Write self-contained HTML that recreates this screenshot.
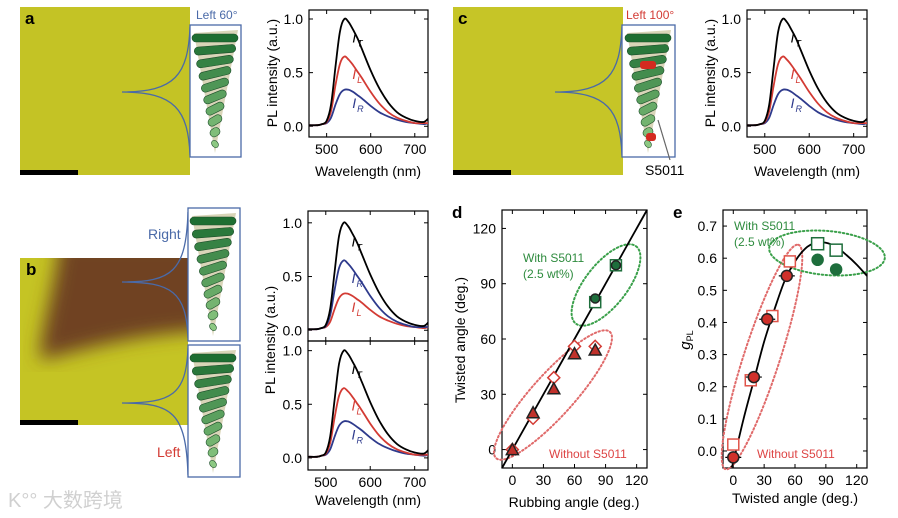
<!DOCTYPE html>
<html><head><meta charset="utf-8"><style>
html,body{margin:0;padding:0;background:#fff;}
svg{display:block;font-family:"Liberation Sans","Noto Sans CJK SC",sans-serif;}
</style></head><body>
<svg id="fig" width="898" height="518" viewBox="0 0 898 518" xmlns="http://www.w3.org/2000/svg">
<defs>
<filter id="blur6"><feGaussianBlur stdDeviation="9"/></filter>
<clipPath id="clipB"><rect x="20" y="258" width="168" height="167"/></clipPath>
</defs>
<rect x="20" y="7" width="170" height="168" fill="#c4c325"/>
<rect x="20" y="170" width="58" height="5" fill="#000"/>
<text x="25" y="24" font-size="17" font-weight="bold">a</text>
<path d="M122,92 C175,92 188,75 190,27 M122,92 C175,92 188,110 190,155" fill="none" stroke="#4a6aa8" stroke-width="1.3"/>
<rect x="190" y="25" width="51" height="132" fill="#fff" stroke="#4a6aa8" stroke-width="1.3"/>
<text x="196" y="19" font-size="12" fill="#4a6aa8">Left 60°</text>
<rect x="453" y="7" width="170" height="168" fill="#c6c527"/>
<rect x="453" y="170" width="58" height="5" fill="#000"/>
<text x="458" y="24" font-size="17" font-weight="bold">c</text>
<path d="M555,92 C608,92 620,75 622,27 M555,92 C608,92 620,110 622,155" fill="none" stroke="#4a6aa8" stroke-width="1.3"/>
<rect x="622" y="25" width="53" height="132" fill="#fff" stroke="#4a6aa8" stroke-width="1.3"/>
<text x="626" y="19" font-size="12" fill="#d33b34">Left 100°</text>
<line x1="670" y1="160" x2="658" y2="120" stroke="#666" stroke-width="1.2"/>
<text x="645" y="175" font-size="14">S5011</text>
<g clip-path="url(#clipB)">
<rect x="20" y="258" width="168" height="167" fill="#c5c424"/>
<path d="M60,240 C55,290 40,330 40,360 C90,348 130,335 210,330 L210,240 Z" fill="#6f4224" filter="url(#blur6)"/>
</g>
<rect x="20" y="420" width="58" height="5" fill="#000"/>
<text x="26" y="275" font-size="17" font-weight="bold">b</text>
<path d="M122,282 C172,282 186,272 188,212 M122,282 C172,282 186,292 188,338 M122,403 C172,403 186,395 188,348 M122,403 C172,403 186,412 188,475" fill="none" stroke="#4a6aa8" stroke-width="1.3"/>
<rect x="188" y="208" width="52" height="133" fill="#fff" stroke="#4a6aa8" stroke-width="1.3"/>
<rect x="188" y="345" width="52" height="132" fill="#fff" stroke="#4a6aa8" stroke-width="1.3"/>
<text x="148" y="239" font-size="14" fill="#4a6aa8">Right</text>
<text x="157" y="457" font-size="14" fill="#d33b34">Left</text>
<text x="8" y="507" font-size="20" fill="#d0d0d0">K°° 大数跨境</text>
<g id="helices"></g>
<g id="charts"></g>
</svg>
<script>
// ---- spectra data ----
const wavelengths = [460,480,490,500,510,520,530,540,550,560,570,580,600,620,640,660,680,700,720,730];
const specT = [0.01,0.01,0.02,0.05,0.2,0.55,0.88,1.0,0.97,0.9,0.82,0.72,0.52,0.35,0.22,0.13,0.08,0.05,0.04,0.07];
const specHigh = [0.01,0.01,0.02,0.04,0.14,0.38,0.58,0.65,0.62,0.57,0.51,0.45,0.32,0.21,0.13,0.08,0.05,0.03,0.03,0.03];
const specLow = [0.01,0.01,0.02,0.03,0.08,0.2,0.3,0.34,0.34,0.32,0.29,0.26,0.19,0.13,0.09,0.06,0.04,0.03,0.02,0.03];
const specTicksX = [500,600,700];
const specTicksY = [0,0.5,1];
const specTickLabelsY = ["0.0","0.5","1.0"];
// ---- panel d data ----
const dRub = [0,20,40,60,80];
const dTriangle = [0,20,33,52,54];
const dDiamond = [0,17,39,56,56];
const dGreenRub = [80,100];
const dGreenCircle = [82,100];
const dGreenSquare = [80,100];
const dLineX = [-10,130];
const dLineY = [-10,130];
const dTicks = [0,30,60,90,120];
// ---- panel e data ----
const eRedCircleX = [0,20,33,52];
const eRedCircleY = [-0.02,0.23,0.41,0.545];
const eRedSquareX = [0,17,38,55];
const eRedSquareY = [0.02,0.22,0.42,0.59];
const eGreenCircleX = [82,100];
const eGreenCircleY = [0.595,0.565];
const eGreenSquareX = [82,100];
const eGreenSquareY = [0.645,0.625];
const eCurveX = [-2,0,10,20,30,40,50,60,70,80,90,100,110,120,130];
const eCurveY = [-0.05,-0.035,0.1,0.22,0.34,0.44,0.53,0.59,0.63,0.648,0.648,0.635,0.61,0.58,0.545];
const eTicksX = [0,30,60,90,120];
const eTicksY = [0,0.1,0.2,0.3,0.4,0.5,0.6,0.7];

const NS="http://www.w3.org/2000/svg";
const charts=document.getElementById('charts');
function el(tag,attrs,parent){const e=document.createElementNS(NS,tag);for(const k in attrs)e.setAttribute(k,attrs[k]);(parent||charts).appendChild(e);return e;}
function axes(px0,px1,py0,py1,d0,d1,r0,r1){
  return {x:v=>px0+(v-d0)/(d1-d0)*(px1-px0), y:v=>py1-(v-r0)/(r1-r0)*(py1-py0), px0,px1,py0,py1};
}
function frame(ax,name,xt,xl,yt,yl,showX,fs){
  const g=el('g',{});
  
  
  el('rect',{x:ax.px0,y:ax.py0,width:ax.px1-ax.px0,height:ax.py1-ax.py0,fill:'none',stroke:'#000','stroke-width':1.2},g);
  xt.forEach((v,i)=>{const X=ax.x(v);
    el('line',{x1:X,x2:X,y1:ax.py1,y2:ax.py1-4,stroke:'#000'},g);
    el('line',{x1:X,x2:X,y1:ax.py0,y2:ax.py0+4,stroke:'#000'},g);
    if(showX){const t=el('text',{x:X,y:ax.py1+17,'font-size':fs,'text-anchor':'middle'},g);t.textContent=xl[i];
      
      }
  });
  yt.forEach((v,i)=>{const Y=ax.y(v);
    el('line',{x1:ax.px0,x2:ax.px0+4,y1:Y,y2:Y,stroke:'#000'},g);
    el('line',{x1:ax.px1,x2:ax.px1-4,y1:Y,y2:Y,stroke:'#000'},g);
    const t=el('text',{x:ax.px0-6,y:Y+5,'font-size':fs,'text-anchor':'end'},g);t.textContent=yl[i];
    
    
  });
}
function line(ax,xs,ys,color,name,w){
  const P=xs.map((x,i)=>[ax.x(x),ax.y(ys[i])]);
  let d='M'+P[0][0].toFixed(1)+','+P[0][1].toFixed(1);
  for(let i=0;i<P.length-1;i++){
    const p0=P[Math.max(0,i-1)],p1=P[i],p2=P[i+1],p3=P[Math.min(P.length-1,i+2)];
    const c1=[p1[0]+(p2[0]-p0[0])/6,p1[1]+(p2[1]-p0[1])/6],c2=[p2[0]-(p3[0]-p1[0])/6,p2[1]-(p3[1]-p1[1])/6];
    d+=` C${c1[0].toFixed(1)},${c1[1].toFixed(1)} ${c2[0].toFixed(1)},${c2[1].toFixed(1)} ${p2[0].toFixed(1)},${p2[1].toFixed(1)}`;
  }
  const p=el('path',{d:d,fill:'none',stroke:color,'stroke-width':w||1.8,'stroke-linejoin':'round'});
  
  
}
function label(x,y,sub,color,name){
  const t=el('text',{x:x,y:y,'font-size':14,'font-style':'italic',fill:color});
  
  
  t.innerHTML='I<tspan font-size="9" dx="1" dy="4">'+sub+'</tspan>';
}
function text(x,y,s,size,anchor,name,color,rot){
  const t=el('text',{x:x,y:y,'font-size':size,'text-anchor':anchor||'start',fill:color||'#000'});
  if(rot)t.setAttribute('transform','rotate(-90 '+x+' '+y+')');
  t.textContent=s;
  
  
  return t;
}
const BLUE='#2e3a8c', RED='#d33b34';
function spectrum(ax,name,first,firstCol,second,secondCol,subs,showX){
  frame(ax,name+'-axes',specTicksX,specTicksX.map(String),specTicksY,specTickLabelsY,showX,14);
  line(ax,wavelengths,second,secondCol,name+'-low-line');
  line(ax,wavelengths,first,firstCol,name+'-mid-line');
  line(ax,wavelengths,specT,'#000',name+'-total-line');
  label(ax.x(558),ax.y(0.78),'T','#000',name+'-label-total');
  label(ax.x(558),ax.y(0.44),subs[0],firstCol,name+'-label-mid');
  label(ax.x(558),ax.y(0.17),subs[1],secondCol,name+'-label-low');
}
const aA=axes(309,428,10,137,460,730,-0.1,1.084);
spectrum(aA,'chart-a',specHigh,RED,specLow,BLUE,['L','R'],true);
text(277,73,'PL intensity (a.u.)',14,'middle','y-axis-title-a','#000',true);
text(368,176,'Wavelength (nm)',14,'middle','x-axis-title-a');
const aC=axes(747,867,10,137,460,730,-0.1,1.084);
spectrum(aC,'chart-c',specHigh,RED,specLow,BLUE,['L','R'],true);
text(715,73,'PL intensity (a.u.)',14,'middle','y-axis-title-c','#000',true);
text(807,176,'Wavelength (nm)',14,'middle','x-axis-title-c');
const aB1=axes(308,428,211,341,460,730,-0.1,1.11);
spectrum(aB1,'chart-b-upper',specHigh,BLUE,specLow,RED,['R','L'],false);
const aB2=axes(308,428,341,470,460,730,-0.113,1.09);
spectrum(aB2,'chart-b-lower',specHigh,RED,specLow,BLUE,['L','R'],true);
text(275,340,'PL intensity (a.u.)',14,'middle','y-axis-title-b','#000',true);
text(368,505,'Wavelength (nm)',14,'middle','x-axis-title-b');

// panel d
const aD=axes(502,647,210,468,-10,130,-10,130);
frame(aD,'chart-d-axes',dTicks,dTicks.map(String),dTicks,dTicks.map(String),true,14);
text(452,218,'d',17,'start','panel-label-d').setAttribute('font-weight','bold');
text(465,340,'Twisted angle (deg.)',14,'middle','y-axis-title-d','#000',true);
text(574,507,'Rubbing angle (deg.)',14,'middle','x-axis-title-d');
function ell(cx,cy,rx,ry,rot,col,name){const e=el('ellipse',{cx,cy,rx,ry,transform:'rotate('+rot+' '+cx+' '+cy+')',fill:'none',stroke:col,'stroke-width':2,'stroke-dasharray':'1.5 2.5','stroke-linecap':'round'});
  
  }
ell(553,395,85,21,-48,'#e06a6a','ellipse-d-without');
ell(606,285,49,21,-52,'#3aa04a','ellipse-d-with');
line(aD,dLineX,dLineY,'#000','fit-line-d',1.8);
function mark(ax,type,x,y,fill,stroke,name,s){
  s=s||5;const X=ax.x(x),Y=ax.y(y);let e;
  if(type==='tri')e=el('polygon',{points:`${X},${Y-s-1} ${X-s-1},${Y+s} ${X+s+1},${Y+s}`});
  else if(type==='dia')e=el('polygon',{points:`${X},${Y-s-1} ${X+s+1},${Y} ${X},${Y+s+1} ${X-s-1},${Y}`});
  else if(type==='sq')e=el('rect',{x:X-s,y:Y-s,width:2*s,height:2*s});
  else e=el('circle',{cx:X,cy:Y,r:s});
  e.setAttribute('fill',fill);e.setAttribute('stroke',stroke);e.setAttribute('stroke-width',1.5);
  
  
}
dRub.forEach((x,i)=>mark(aD,'dia',x,dDiamond[i],'#fff',RED,'diamond-point'));
dRub.forEach((x,i)=>mark(aD,'tri',x,dTriangle[i],'#c0312b','#222','triangle-point'));
dGreenRub.forEach((x,i)=>mark(aD,'sq',x,dGreenSquare[i],'#fff','#1e6e3c','green-square-point',5.5));
dGreenRub.forEach((x,i)=>mark(aD,'circ',x,dGreenCircle[i],'#1e6e3c','#222','green-circle-point',4.5));
text(523,262,'With S5011',12,'start','annotation-with-d','#2e8b3e');
text(523,278,'(2.5 wt%)',12,'start','annotation-wt-d','#2e8b3e');
text(549,458,'Without S5011',12,'start','annotation-without-d','#d44');

// panel e
const aE=axes(723,867,210,468,-10,130,-0.053,0.75);
frame(aE,'chart-e-axes',eTicksX,eTicksX.map(String),eTicksY,eTicksY.map(v=>v.toFixed(1)),true,14);
text(673,218,'e',17,'start','panel-label-e').setAttribute('font-weight','bold');
const g=text(690,340,'g',15,'middle','y-axis-title-e','#000',true);g.setAttribute('font-style','italic');g.innerHTML='g<tspan font-size="9" font-style="normal" dy="3">PL</tspan>';
text(795,503,'Twisted angle (deg.)',14,'middle','x-axis-title-e');
ell(762,357,118,18,-72,'#e06a6a','ellipse-e-without');
ell(827,253,58,22,5,'#3aa04a','ellipse-e-with');
line(aE,eCurveX,eCurveY,'#000','fit-curve-e',1.8);
eRedSquareX.forEach((x,i)=>mark(aE,'sq',x,eRedSquareY[i],'#fff','#e0544a','red-square-point',5.5));
eRedCircleX.forEach((x,i)=>{const X=aE.x(x),Y=aE.y(eRedCircleY[i]);el('line',{x1:X-8,x2:X+8,y1:Y,y2:Y,stroke:'#000','stroke-width':1.2});mark(aE,'circ',x,eRedCircleY[i],'#d0302a','#222','red-circle-point',5.5);});
eGreenSquareX.forEach((x,i)=>mark(aE,'sq',x,eGreenSquareY[i],'#fff','#1e6e3c','green-square-point-e',6));
eGreenCircleX.forEach((x,i)=>mark(aE,'circ',x,eGreenCircleY[i],'#1e6e3c','#1e6e3c','green-circle-point-e',5.5));
text(734,230,'With S5011',12,'start','annotation-with-e','#2e8b3e');
text(734,246,'(2.5 wt%)',12,'start','annotation-wt-e','#2e8b3e');
text(757,458,'Without S5011',12,'start','annotation-without-e','#d44');

// helix illustrations (decorative)
const hg=document.getElementById('helices');
function helix(bx,by,h,red){
  const cx=bx+25;
  el('polygon',{points:`${bx+4},${by+5} ${bx+48},${by+2} ${cx},${by+h-3}`,fill:'#c9c39a',opacity:0.7},hg);
  const n=10;
  for(let i=0;i<n;i++){
    const t=i/(n-1);const w=40*(1-t)+6;const y=by+10+t*(h-22);
    const gcol=`rgb(${30+t*110},${110+t*90},${50+t*80})`;
    el('rect',{x:cx-w/2,y:y-4,width:w,height:8,rx:4,fill:gcol,stroke:'#1d4d2a','stroke-width':0.6,transform:`rotate(${-t*40} ${cx} ${y})`},hg);
  }
  if(red){el('rect',{x:cx-8,y:by+33,width:16,height:8,rx:3,fill:'#d42a20'},hg);el('rect',{x:cx-2,y:by+105,width:10,height:8,rx:3,fill:'#d42a20'},hg);}
}
helix(190,28,128,false);
helix(623,28,128,true);
helix(188,211,128,false);
helix(188,348,128,false);
</script>
</body></html>
